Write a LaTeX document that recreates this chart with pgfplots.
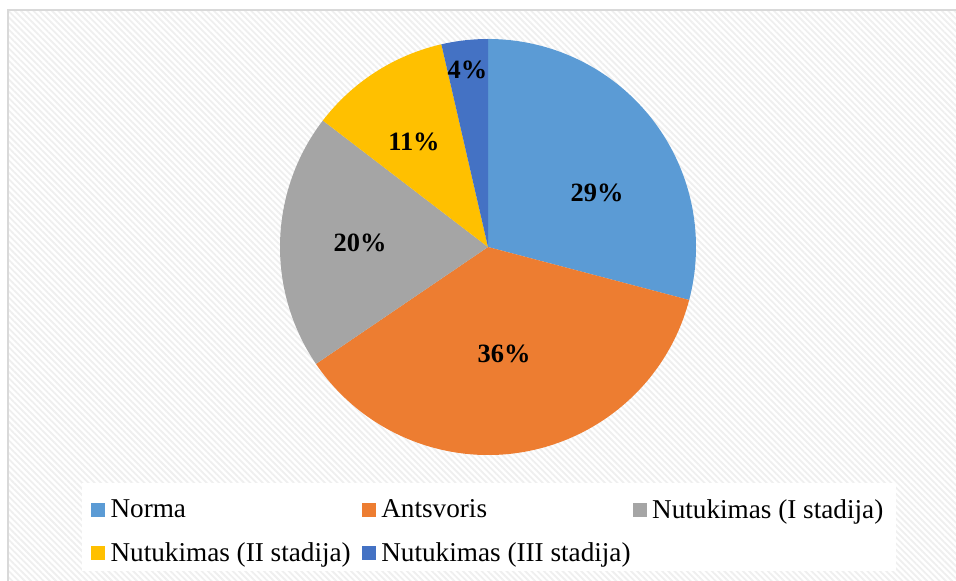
\documentclass[border=0pt]{standalone}
\usepackage{pgfplots}
\pgfplotsset{compat=1.18}
\usepackage{pgfplotstable}
\usepackage{fontspec}
\setmainfont{Liberation Serif}
\usetikzlibrary{patterns.meta}
\definecolor{cNorma}{HTML}{5B9BD5}
\definecolor{cAnts}{HTML}{ED7D31}
\definecolor{cI}{HTML}{A5A5A5}
\definecolor{cII}{HTML}{FFC000}
\definecolor{cIII}{HTML}{4472C4}
\definecolor{stripe}{HTML}{EFEFEF}
\definecolor{framec}{HTML}{D9D9D9}

% value = share (%), lab = printed label, lx/ly = label position
\pgfplotstableread{
idx value lab lx ly
0 29.1 29 0.524 0.260
1 36.4 36 0.077 -0.514
2 19.9 20 -0.615 0.019
3 11.0 11 -0.356 0.505
4 3.6 4 -0.099 0.851
}\piedata

\begin{document}
\begin{tikzpicture}[x=1pt,y=1pt]
\useasboundingbox (0,0) rectangle (478,290.5);
\fill[white] (0,0) rectangle (478,290.5);
\fill[pattern={Lines[angle=-45,distance=2.2pt,line width=0.9pt]},pattern color=stripe] (4,0) rectangle (478,285.5);
\draw[framec,line width=0.8pt] (4,0) -- (4,285.5) -- (478,285.5);
\fill[white] (41,5) rectangle (448,49);
\begin{axis}[hide axis, scale only axis, width=208pt, height=208pt,
  xmin=-1,xmax=1,ymin=-1,ymax=1, at={(244pt,167pt)}, anchor=center,
  legend columns=3, legend cell align=left,
  legend style={draw=none, fill=none, inner sep=0pt, at={(-0.4545,-0.0986)}, anchor=north west,
    font=\fontsize{13.6}{15}\selectfont, row sep=7.5pt, nodes={inner sep=1.5pt, anchor=west}},
  legend image code/.code={\fill[#1] (0pt,-3.25pt) rectangle (6.5pt,3.25pt);}]
\addlegendimage{cNorma}\addlegendentry{\hspace{1.2pt}\makebox[124.3pt][l]{Norma}}
\addlegendimage{cAnts}\addlegendentry{\hspace{1.2pt}\makebox[124.3pt][l]{Antsvoris}}
\addlegendimage{cI}\addlegendentry{\hspace{1.2pt}\makebox[124.3pt][l]{Nutukimas (I stadija)}}
\addlegendimage{cII}\addlegendentry{\hspace{1.2pt}\makebox[124.3pt][l]{Nutukimas (II stadija)}}
\addlegendimage{cIII}\addlegendentry{\hspace{1.2pt}\makebox[124.3pt][l]{Nutukimas (III stadija)}}
\pgfplotsextra{
 \xdef\cum{90}
 \foreach \i/\cc in {0/cNorma,1/cAnts,2/cI,3/cII,4/cIII}{
   \pgfplotstablegetelem{\i}{value}\of\piedata
   \pgfmathsetmacro\a{\cum}
   \pgfmathsetmacro\b{\cum-3.6*\pgfplotsretval}
   \fill[\cc] (axis cs:0,0) -- ++(\a:104pt) arc[start angle=\a,end angle=\b,radius=104pt] -- cycle;
   \xdef\cum{\b}
 }
 \foreach \i in {0,...,4}{
   \pgfplotstablegetelem{\i}{lab}\of\piedata \let\v\pgfplotsretval
   \pgfplotstablegetelem{\i}{lx}\of\piedata \let\lx\pgfplotsretval
   \pgfplotstablegetelem{\i}{ly}\of\piedata \let\ly\pgfplotsretval
   \node[font=\fontsize{13.2}{15}\selectfont\bfseries] at (axis cs:\lx,\ly) {\v\%};
 }
}
\end{axis}
\end{tikzpicture}
\end{document}
